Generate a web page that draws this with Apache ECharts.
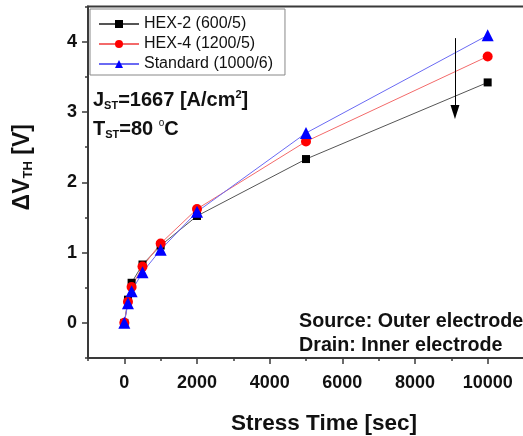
<!DOCTYPE html>
<html>
<head>
<meta charset="utf-8">
<script src="https://cdn.jsdelivr.net/npm/echarts@6/dist/echarts.min.js"></script>
<style>
  html, body { margin: 0; padding: 0; background: #fff; }
  #chart { width: 523px; height: 436px; }
</style>
</head>
<body>
<div id="chart"></div>
<script>
// stress time [sec] and threshold shift [V]
const stressTime = [0, 100, 200, 500, 1000, 2000, 5000, 10000];
const hex2 = [0, 0.33, 0.57, 0.83, 1.10, 1.52, 2.33, 3.42];
const hex4 = [0, 0.30, 0.51, 0.80, 1.13, 1.62, 2.58, 3.79];
const standard = [0, 0.28, 0.45, 0.72, 1.04, 1.58, 2.70, 4.09];
const seriesNames = ['HEX-2 (600/5)', 'HEX-4 (1200/5)', 'Standard (1000/6)'];
const xMajorTicks = [0, 2000, 4000, 6000, 8000, 10000];
const yMajorTicks = [0, 1, 2, 3, 4];
// arrow showing the trend at ~9100 s (arrowTo = centre of the head)
const arrowX = 9100;
const arrowFrom = 4.05;
const arrowTo = 3.0;

const FONT = '"Liberation Sans", Arial, sans-serif';
const axisColor = '#3a3a3a';

const chart = echarts.init(document.getElementById('chart'));

function pairs(ys) {
  return stressTime.map((t, i) => [t, ys[i]]);
}

const commonAxis = {
  axisLine: { show: true, onZero: false, lineStyle: { color: axisColor, width: 2 } },
  splitLine: { show: false },
};
// second axis only carries the longer major ticks
const majorTickAxis = {
  axisLine: { show: false, onZero: false },
  splitLine: { show: false },
  axisLabel: { show: false },
};

chart.setOption({
  animation: false,
  textStyle: { fontFamily: FONT },
  grid: {
    left: 88, top: 6.5, width: 436, bottom: 78,
    outerBoundsMode: 'none',
    show: true, borderColor: axisColor, borderWidth: 2
  },
  legend: {
    data: seriesNames,
    orient: 'vertical',
    left: 90,
    top: 9,
    padding: [7, 12, 3, 8],
    itemGap: 4,
    itemWidth: 40,
    itemHeight: 10,
    borderColor: '#888',
    borderWidth: 1,
    textStyle: { fontFamily: FONT, fontSize: 16, color: '#111' },
  },
  xAxis: [{
    type: 'value', min: -1000, max: 11000, interval: 1000,
    ...commonAxis,
    axisTick: { show: true, length: 3, lineStyle: { color: axisColor, width: 1.5 } },
    axisLabel: {
      margin: 16, color: '#111', fontFamily: FONT, fontWeight: 'bold', fontSize: 18,
      formatter: v => xMajorTicks.includes(v) ? String(v) : ''
    },
    name: 'Stress Time [sec]',
    nameLocation: 'middle',
    nameGap: 54,
    nameTextStyle: { fontFamily: FONT, fontWeight: 'bold', fontSize: 22.5, color: '#111', padding: [0, 0, 0, 36] },
  }, {
    type: 'value', min: -1000, max: 11000, position: 'bottom',
    ...majorTickAxis,
    axisTick: { show: true, length: 6, customValues: xMajorTicks, lineStyle: { color: axisColor, width: 1.5 } },
  }],
  yAxis: [{
    type: 'value', min: -0.5, max: 4.5, interval: 0.5,
    ...commonAxis,
    axisTick: { show: true, length: 3, lineStyle: { color: axisColor, width: 1.5 } },
    axisLabel: {
      margin: 11, color: '#111', fontFamily: FONT, fontWeight: 'bold', fontSize: 18,
      formatter: v => yMajorTicks.includes(v) ? String(v) : ''
    },
    name: '{a|ΔV}{s|TH}{a| [V]}',
    nameLocation: 'middle',
    nameGap: 53,
    nameTextStyle: {
      padding: [0, 0, 0, 30],
      rich: {
        a: { fontFamily: FONT, fontWeight: 'bold', fontSize: 23, color: '#111' },
        s: { fontFamily: FONT, fontWeight: 'bold', fontSize: 13, color: '#111', verticalAlign: 'bottom', padding: [11, 0, 0, 0] },
      }
    },
  }, {
    type: 'value', min: -0.5, max: 4.5, position: 'left',
    ...majorTickAxis,
    axisTick: { show: true, length: 6, customValues: yMajorTicks, lineStyle: { color: axisColor, width: 1.5 } },
  }],
  series: [{
    name: seriesNames[0], type: 'line', data: pairs(hex2),
    symbol: 'rect', symbolSize: 8,
    itemStyle: { color: '#000' },
    lineStyle: { color: '#555', width: 1 },
    markLine: {
      silent: true,
      symbol: ['none', 'triangle'],
      symbolSize: [9, 14],
      label: { show: false },
      lineStyle: { color: '#000', width: 1, type: 'solid' },
      data: [[{ coord: [arrowX, arrowFrom] }, { coord: [arrowX, arrowTo] }]],
    },
  }, {
    name: seriesNames[1], type: 'line', data: pairs(hex4),
    symbol: 'circle', symbolSize: 10,
    itemStyle: { color: '#f00' },
    lineStyle: { color: '#f36a6a', width: 1 },
  }, {
    name: seriesNames[2], type: 'line', data: pairs(standard),
    symbol: 'triangle', symbolSize: 12,
    itemStyle: { color: '#00f' },
    lineStyle: { color: '#6a6af3', width: 1 },
  }],
  graphic: [{
    type: 'text', left: 93, top: 89,
    style: {
      text: '{b|J}{s|ST}{b|=1667 [A/cm}{u|2}{b|]}',
      rich: {
        b: { fontFamily: FONT, fontWeight: 'bold', fontSize: 20, fill: '#111' },
        s: { fontFamily: FONT, fontWeight: 'bold', fontSize: 11, fill: '#111', verticalAlign: 'bottom', padding: [11, 0, 0, 0] },
        u: { fontFamily: FONT, fontWeight: 'bold', fontSize: 11, fill: '#111', verticalAlign: 'top', padding: [0, 0, 9, 0] },
      }
    }
  }, {
    type: 'text', left: 93, top: 118,
    style: {
      text: '{b|T}{s|ST}{b|=80 }{u|o}{b|C}',
      rich: {
        b: { fontFamily: FONT, fontWeight: 'bold', fontSize: 20, fill: '#111' },
        s: { fontFamily: FONT, fontWeight: 'bold', fontSize: 11, fill: '#111', verticalAlign: 'bottom', padding: [11, 0, 0, 0] },
        u: { fontFamily: FONT, fontWeight: 'normal', fontSize: 10, fill: '#111', verticalAlign: 'top', padding: [0, 0, 9, 0] },
      }
    }
  }, {
    type: 'text', left: 299, top: 312,
    style: { text: 'Source: Outer electrode', fontFamily: FONT, fontWeight: 'bold', fontSize: 19.7, fill: '#111' }
  }, {
    type: 'text', left: 299, top: 336,
    style: { text: 'Drain: Inner electrode', fontFamily: FONT, fontWeight: 'bold', fontSize: 19.7, fill: '#111' }
  }],
});
</script>
</body>
</html>
